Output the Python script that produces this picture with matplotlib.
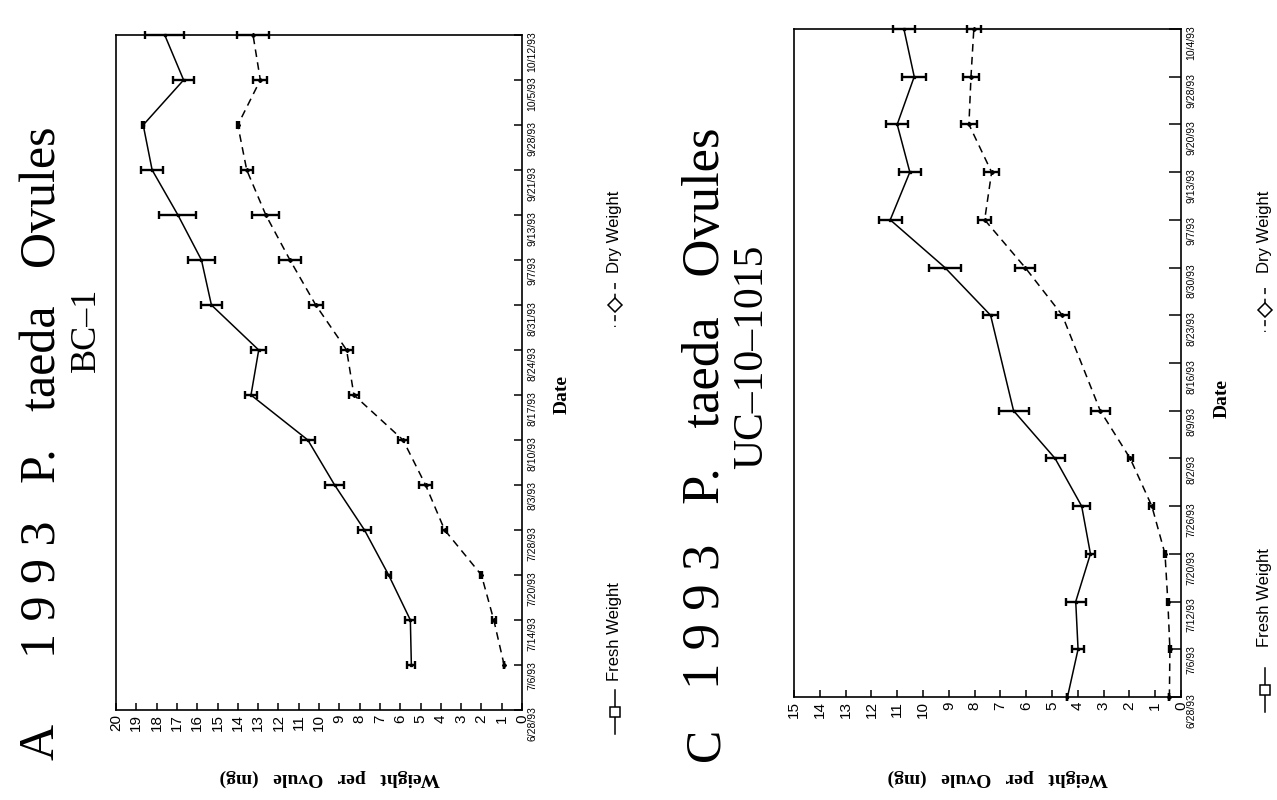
import matplotlib
matplotlib.use("Agg")
import matplotlib.pyplot as plt
from matplotlib.lines import Line2D

SERIF = ["Liberation Serif", "DejaVu Serif"]
SANS = ["Liberation Sans", "DejaVu Sans"]

# ---- Panel A: BC-1 ----
dates_a = ["6/28/93", "7/6/93", "7/14/93", "7/20/93", "7/28/93", "8/3/93",
           "8/10/93", "8/17/93", "8/24/93", "8/31/93", "9/7/93", "9/13/93",
           "9/21/93", "9/28/93", "10/5/93", "10/12/93"]
sampled_a = dates_a[1:]
fresh_a = [5.45, 5.5, 6.57, 7.76, 9.23, 10.55, 13.35, 12.97, 15.3, 15.79,
           16.95, 18.22, 18.66, 16.67, 17.6]
fresh_a_err = [0.2, 0.25, 0.12, 0.33, 0.45, 0.36, 0.3, 0.37, 0.53, 0.66,
               0.91, 0.53, 0.05, 0.53, 0.95]
dry_a = [0.88, 1.39, 2.0, 3.81, 4.75, 5.86, 8.28, 8.64, 10.16, 11.43,
         12.62, 13.56, 14.0, 12.89, 13.25]
dry_a_err = [0.0, 0.1, 0.05, 0.14, 0.33, 0.23, 0.26, 0.3, 0.35, 0.52,
             0.67, 0.3, 0.05, 0.34, 0.77]
weight_ticks_a = list(range(0, 21))

# ---- Panel C: UC-10-1015 ----
dates_c = ["6/28/93", "7/6/93", "7/12/93", "7/20/93", "7/26/93", "8/2/93",
           "8/9/93", "8/16/93", "8/23/93", "8/30/93", "9/7/93", "9/13/93",
           "9/20/93", "9/28/93", "10/4/93"]
sampled_c = [d for d in dates_c if d != "8/16/93"]
fresh_c = [4.4, 3.99, 4.08, 3.51, 3.85, 4.88, 6.49, 7.38, 9.15, 11.27,
           10.51, 11.0, 10.34, 10.74]
fresh_c_err = [0.0, 0.24, 0.39, 0.17, 0.34, 0.37, 0.58, 0.29, 0.63, 0.45,
               0.42, 0.42, 0.47, 0.42]
dry_c = [0.45, 0.43, 0.51, 0.62, 1.13, 1.97, 3.13, 4.6, 6.04, 7.61,
         7.34, 8.22, 8.14, 8.03]
dry_c_err = [0.0, 0.05, 0.05, 0.03, 0.1, 0.1, 0.36, 0.26, 0.4, 0.24,
             0.3, 0.31, 0.3, 0.28]
weight_ticks_c = list(range(0, 16))

W, H = 1277, 800
fig = plt.figure(figsize=(W / 100, H / 100), dpi=100)
fig.patch.set_facecolor("white")


def px_axes(x0, y0, x1, y1):
    """Axes from pixel box (left, top, right, bottom)."""
    return fig.add_axes([x0 / W, 1 - y1 / H, (x1 - x0) / W, (y1 - y0) / H])


def fpos(x, y):
    return x / W, 1 - y / H


def draw_panel(ax, dates, sampled, fresh, fresh_err, dry, dry_err, wticks,
               ytick_len):
    pos = [dates.index(d) for d in sampled]
    ax.errorbar(fresh, pos, xerr=fresh_err, color="black", lw=1.1,
                elinewidth=1.7, capsize=3, capthick=1.7, marker="s", ms=2,
                clip_on=False, zorder=3)
    ax.errorbar(dry, pos, xerr=dry_err, color="black", lw=1.1,
                ls=(0, (5, 3.5)), elinewidth=1.7, capsize=3, capthick=1.7,
                marker="D", ms=2, clip_on=False, zorder=3)
    ax.set_xlim(max(wticks), 0)
    ax.set_ylim(0, len(dates) - 1)
    ax.set_xticks(wticks)
    ax.set_xticklabels([str(v) for v in wticks], family=SANS)
    ax.set_yticks(range(len(dates)))
    ax.set_yticklabels(dates, family=SANS)
    ax.yaxis.tick_right()
    ax.tick_params(axis="x", direction="in", length=5, width=1.1,
                   labelrotation=90, labelsize=11, pad=3)
    ax.tick_params(axis="y", direction="in", length=ytick_len, width=1.1,
                   labelrotation=90, labelsize=7.5, pad=4)
    for s in ax.spines.values():
        s.set_linewidth(1.2)


def legend_entry(x, y_sym, y_txt, label, dashed, marker):
    y0, y1 = y_sym - 22, y_sym + 22
    fig.add_artist(Line2D([x / W, x / W], [1 - y0 / H, 1 - y1 / H],
                          color="black", lw=1.1,
                          ls=(0, (4, 3)) if dashed else "-"))
    fig.add_artist(Line2D([x / W], [1 - y_sym / H], marker=marker, ms=7,
                          mfc="white", mec="black", mew=1.1, ls="none"))
    fig.text(*fpos(x, y_txt), label, rotation=90, ha="center", va="center",
             family=SANS, fontsize=12)


TITLE = "1 9 9 3   P.   taeda   Ovules"
YLABEL = "Weight   per   Ovule   (mg)"

# Panel A
ax_a = px_axes(116, 35, 522, 710)
draw_panel(ax_a, dates_a, sampled_a, fresh_a, fresh_a_err, dry_a, dry_a_err,
           weight_ticks_a, 6)
fig.text(*fpos(41, 742), "A", rotation=90, ha="center", va="center",
         family=SERIF, fontsize=36)
fig.text(*fpos(43, 392), TITLE, rotation=90, ha="center", va="center",
         family=SERIF, fontsize=36)
fig.text(*fpos(86, 330), "BC\u20131", rotation=90, ha="center", va="center",
         family=SERIF, fontsize=26)
fig.text(*fpos(330, 778), YLABEL, rotation=180, ha="center", va="center",
         family=SERIF, fontsize=14, fontweight="bold")
fig.text(*fpos(562, 395), "Date", rotation=90, ha="center", va="center",
         family=SERIF, fontsize=14, fontweight="bold")
legend_entry(615, 712, 632, "Fresh Weight", False, "s")
legend_entry(615, 305, 232, "Dry Weight", True, "D")

# Panel C
ax_c = px_axes(794, 29, 1181, 697)
draw_panel(ax_c, dates_c, sampled_c, fresh_c, fresh_c_err, dry_c, dry_c_err,
           weight_ticks_c, 9)
fig.text(*fpos(706, 744), "C", rotation=90, ha="center", va="center",
         family=SERIF, fontsize=36)
fig.text(*fpos(706, 408), TITLE, rotation=90, ha="center", va="center",
         family=SERIF, fontsize=38)
fig.text(*fpos(752, 357), "UC\u201310\u20131015", rotation=90, ha="center",
         va="center", family=SERIF, fontsize=30)
fig.text(*fpos(998, 778), YLABEL, rotation=180, ha="center", va="center",
         family=SERIF, fontsize=14, fontweight="bold")
fig.text(*fpos(1222, 398), "Date", rotation=90, ha="center", va="center",
         family=SERIF, fontsize=14, fontweight="bold")
legend_entry(1265, 690, 598, "Fresh Weight", False, "s")
legend_entry(1265, 310, 232, "Dry Weight", True, "D")

fig.savefig("out.png", dpi=100, facecolor="white")
